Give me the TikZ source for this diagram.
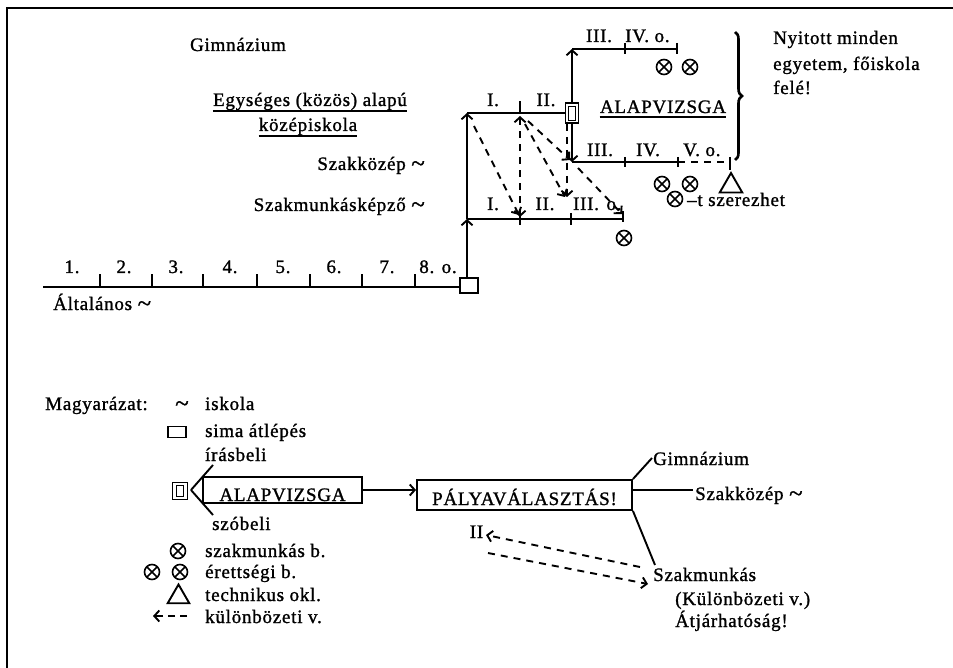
\documentclass[tikz,border=0pt]{standalone}
\usepackage{fontspec}
\setmainfont{Liberation Serif}[LetterSpace=4,FakeBold=1.2]
\usetikzlibrary{arrows.meta,calc,shapes.geometric,decorations.pathreplacing}
\newcommand{\mytilde}{\raisebox{-1.5pt}{\fontsize{25}{25}\selectfont\textasciitilde}}
\begin{document}
\begin{tikzpicture}[x=1pt,y=-1pt,
  >={Straight Barb[length=5pt,width=11pt,line width=1.9pt]},
  every node/.style={font=\fontsize{19}{22}\selectfont, inner sep=0pt},
  ln/.style={line width=2.2pt},
  tk/.style={line width=1.9pt},
  dsh/.style={line width=1.9pt, dash pattern=on 7pt off 6pt},
  arr/.style={->},
  ox/.style={circle, draw, line width=1.6pt, minimum size=15pt,
    path picture={\draw[line width=1.6pt] (path picture bounding box.north west)--(path picture bounding box.south east) (path picture bounding box.north east)--(path picture bounding box.south west);}},
  tri/.style={regular polygon, regular polygon sides=3, draw, line width=1.9pt, minimum size=26pt},
  sq/.style={rectangle, draw, line width=1.9pt},
  ul/.style={line width=1.5pt},
]
\useasboundingbox (0,0) rectangle (953,668);
% frame
\coordinate (fr0) at (7,668); \coordinate (fr1) at (7,8); \coordinate (fr2) at (953,8);
\draw[line width=2.8pt] (fr0) -- (fr1) -- (fr2);

% ---------- Altalanos line ----------
\node[sq, minimum width=18pt, minimum height=15pt] (b8) at (469,285.5) {};
\coordinate (a0) at (43,287);
\draw[ln] (a0) -- (a0 -| b8.west);
\foreach \x in {100,152,203,257,310,362,415} {
  \coordinate (ta\x) at (\x,287); \coordinate (tb\x) at (\x,274);
  \draw[tk] (ta\x) -- (tb\x);}
\foreach \x/\t [count=\i] in {72/1.,124/2.,176/3.,230/4.,283/5.,334/6.,387/7.,438/8. o.}
  \node[anchor=base] (cl\i) at (\x,273) {\t};
\node[anchor=base west] (alt) at (53,310) {Általános \mytilde};

% ---------- vertical and lower branch ----------
\coordinate (j1) at (467,219);
\coordinate (j2) at (467,113);
\draw[ln,arr] (j1 |- b8.north) -- (j1);
\draw[ln,arr] (j1) -- (j2);
\coordinate (e1) at (623,219);
\draw[ln] (j1) -- (e1);
\coordinate (k1a) at (520,213); \coordinate (k1b) at (520,225);
\coordinate (k2a) at (571,213); \coordinate (k2b) at (571,225);
\coordinate (k3a) at (623,211); \coordinate (k3b) at (623,222);
\draw[tk] (k1a) -- (k1b); \draw[tk] (k2a) -- (k2b); \draw[tk] (k3a) -- (k3b);
\node[ox] (ox1) at (624,238) {};
\node[anchor=base] (l1) at (493,210) {I.};
\node[anchor=base] (l2) at (545,210) {II.};
\node[anchor=base] (l3) at (586,210) {III.};
\node[anchor=base] (l4) at (614,210) {o.};

% ---------- middle branch ----------
\node[sq, minimum width=13pt, minimum height=20pt] (sb) at (572,113) {};
\draw[line width=0.9pt] ($(sb.center)+(-3.5,-7)$) rectangle ($(sb.center)+(3.5,7)$);
\draw[ln] (j2) -- (sb.west);
\coordinate (m1a) at (520,113); \coordinate (m1b) at (520,101);
\draw[tk] (m1a) -- (m1b);
\node[anchor=base] (mI) at (493,106) {I.};
\node[anchor=base] (mII) at (546,106) {II.};
\node[anchor=base] (alap) at (663,113) {ALAPVIZSGA};
\draw[ul] ($(alap.base west)+(0,4)$) -- ($(alap.base east)+(0,4)$);

% upper gymnasium line
\coordinate (t1) at (572,49);
\coordinate (t1e) at (677,49);
\draw[ln,arr] (sb.north) -- (t1);
\draw[ln] (t1) -- (t1e);
\coordinate (u1a) at (625,43); \coordinate (u1b) at (625,54);
\coordinate (u2a) at (677,43); \coordinate (u2b) at (677,54);
\draw[tk] (u1a) -- (u1b); \draw[tk] (u2a) -- (u2b);
\node[anchor=base] (uIII) at (599,42) {III.};
\node[anchor=base west] (uIV) at (625,42) {IV. o.};
\node[ox] (ox2) at (664,67) {};
\node[ox] (ox3) at (690,67) {};

% lower szakkozep line
\coordinate (t2) at (572,162);
\coordinate (t2m) at (678,162);
\coordinate (t2e) at (730,162);
\draw[ln,arr] (sb.south) -- (t2);
\draw[ln] (t2) -- (t2m);
\draw[dsh] (t2m) -- (t2e);
\coordinate (s1a) at (625,157); \coordinate (s1b) at (625,167);
\coordinate (s2a) at (678,157); \coordinate (s2b) at (678,167);
\coordinate (s3a) at (730,157); \coordinate (s3b) at (730,170);
\draw[tk] (s1a) -- (s1b); \draw[tk] (s2a) -- (s2b); \draw[tk] (s3a) -- (s3b);
\node[anchor=base] (sIII) at (600,156) {III.};
\node[anchor=base] (sIV) at (648,156) {IV.};
\node[anchor=base west] (sV) at (683,156) {V. o.};
\node[ox] (ox4) at (662,184) {};
\node[ox] (ox5) at (690,184) {};
\node[ox] (ox6) at (675,199) {};
\node[tri] (tr1) at (731,186) {};
\node[anchor=base west] (szer) at (687,206) {–t szerezhet};

% brace and right text
\coordinate (br1) at (735,32); \coordinate (br2) at (735,160);
\draw[line width=2.6pt, decorate, decoration={brace, amplitude=7pt}] (br1) -- (br2);
\node[anchor=base west] (ny1) at (773,44) {Nyitott minden};
\node[anchor=base west] (ny2) at (773,70) {egyetem, főiskola};
\node[anchor=base west] (ny3) at (773,94) {felé!};

% dashed transfer arrows
\coordinate (d1a) at (474,126); \coordinate (d1b) at (519,215);
\coordinate (d2a) at (520,116); \coordinate (d2b) at (520,217);
\coordinate (d3a) at (525,124); \coordinate (d3b) at (565,197);
\coordinate (d4a) at (528,121); \coordinate (d4b) at (570,160);
\coordinate (d5a) at (567,124); \coordinate (d5b) at (567,197);
\coordinate (d6a) at (578,168); \coordinate (d6b) at (622,214);
\draw[dsh,arr] (d1a) -- (d1b);
\draw[dsh,<->] (d2a) -- (d2b);
\draw[dsh,arr] (d3a) -- (d3b);
\draw[dsh,arr] (d4a) -- (d4b);
\draw[dsh,arr] (d5a) -- (d5b);
\draw[dsh,arr] (d6a) -- (d6b);

% left labels
\node[anchor=base] (gim) at (238,51) {Gimnázium};
\node[anchor=base] (egy1) at (310,106) {Egységes (közös) alapú};
\draw[ul] ($(egy1.base west)+(0,5)$) -- ($(egy1.base east)+(0,5)$);
\node[anchor=base] (egy2) at (308,131) {középiskola};
\draw[ul] ($(egy2.base west)+(0,5)$) -- ($(egy2.base east)+(0,5)$);
\node[anchor=base east] (szk) at (425,170) {Szakközép \mytilde};
\node[anchor=base east] (szm) at (425,211) {Szakmunkásképző \mytilde};

% ---------- legend ----------
\node[anchor=base west] (magy) at (45,410) {Magyarázat:};
\node[anchor=base] (lt) at (182,410) {\mytilde};
\node[anchor=base west] (lisk) at (205,410) {iskola};
\node[sq, minimum width=18pt, minimum height=11pt] (lsq) at (177,432) {};
\node[anchor=base west] (lsima) at (205,437) {sima átlépés};
\node[anchor=base west] (lir) at (205,461) {írásbeli};
\node[sq, minimum width=15pt, minimum height=17pt] (ldb) at (180,491) {};
\draw[line width=0.9pt] ($(ldb.center)+(-3.5,-5.5)$) rectangle ($(ldb.center)+(3.5,5.5)$);
\coordinate (ld0) at (191,490); \coordinate (ld1) at (213,465); \coordinate (ld2) at (213,515);
\draw[tk] (ld0) -- (ld1); \draw[tk] (ld0) -- (ld2);
\node[anchor=base west] (lszo) at (212,530) {szóbeli};
\node[sq, minimum width=159pt, minimum height=26pt, text height=22pt, text depth=0pt, inner ysep=2pt] (ab) at (282.5,490) {ALAPVIZSGA};
\node[sq, minimum width=215pt, minimum height=30pt, text height=23pt, text depth=3pt, inner ysep=2pt] (pv) at (524.5,495) {PÁLYAVÁLASZTÁS!};
\draw[tk,arr] (ab.east) -- (ab.east -| pv.west);
\node[ox] (lox1) at (178,551) {};
\node[anchor=base west] (lszm) at (205,557) {szakmunkás b.};
\node[ox] (lox2) at (152,572) {};
\node[ox] (lox3) at (180,572) {};
\node[anchor=base west] (ler) at (205,578) {érettségi b.};
\node[tri, minimum size=25pt] (ltr) at (178.5,597) {};
\node[anchor=base west] (ltech) at (205,601) {technikus okl.};
\coordinate (lk0) at (187,616); \coordinate (lk1) at (153,616);
\draw[tk, dash pattern=on 7pt off 5pt, arr] (lk0) -- (lk1);
\node[anchor=base west] (lkul) at (205,623) {különbözeti v.};

% right part of legend
\node[anchor=base west] (rg) at (653,465) {Gimnázium};
\node[anchor=base west] (rsz) at (695,500) {Szakközép \mytilde};
\node[anchor=base west] (rsm) at (653,581) {Szakmunkás};
\node[anchor=base west] (rku) at (675,605) {(Különbözeti v.)};
\node[anchor=base west] (rat) at (675,627) {Átjárhatóság!};
\node[anchor=base] (rII) at (476.5,538) {II};
\coordinate (rg0) at (652,458); \coordinate (rs0) at (632,490); \coordinate (rs1) at (693,490);
\coordinate (rm0) at (655,565);
\draw[tk] (pv.north east) -- (rg0);
\draw[tk] (rs0) -- (rs1);
\draw[tk] (pv.south east) -- (rm0);
\coordinate (q1a) at (640,567); \coordinate (q1b) at (486,535);
\coordinate (q2a) at (488,553); \coordinate (q2b) at (648,584);
\draw[dsh,arr] (q1a) -- (q1b);
\draw[dsh,arr] (q2a) -- (q2b);
\end{tikzpicture}
\end{document}
